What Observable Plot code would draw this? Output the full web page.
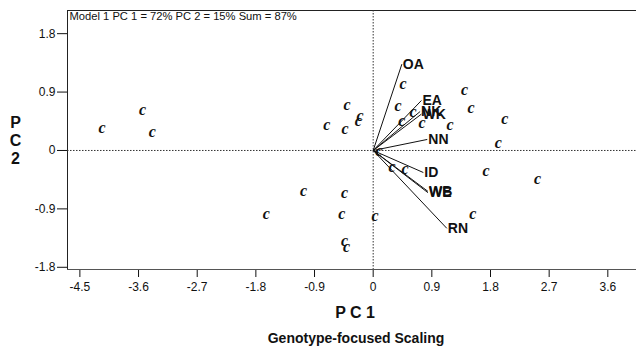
<!DOCTYPE html>
<html>
<head>
<meta charset="utf-8">
<script src="https://cdn.jsdelivr.net/npm/d3@7"></script>
<script src="https://cdn.jsdelivr.net/npm/@observablehq/plot@0.6"></script>
<style>
  html, body { margin: 0; padding: 0; background: #fff; }
  #chart svg { display: block; }
</style>
</head>
<body>
<div id="chart"></div>
<script>
// Genotype scores (PC1, PC2)
const genoPC1 = [-4.16, -3.54, -3.39, -1.64, -1.07, -0.71, -0.43, -0.40, -0.20, -0.23,
                 -0.44, -0.48, -0.44, -0.41, 0.03, 0.09, 0.46, 0.38, 0.61, 0.44,
                 0.75, 1.18, 1.40, 1.50, 2.02, 1.92, 0.29, 0.49, 1.73, 2.52, 1.53];
const genoPC2 = [0.35, 0.62, 0.29, -0.97, -0.63, 0.40, 0.34, 0.71, 0.54, 0.45,
                 -0.66, -0.97, -1.39, -1.49, -1.00, 0.00, 1.03, 0.68, 0.59, 0.46,
                 0.43, 0.40, 0.94, 0.65, 0.49, 0.11, -0.25, -0.28, -0.32, -0.43, -0.97];
const genoLabel = "c";

// Environment vectors
const envNames = ["OA", "EA", "NK", "WK", "NN", "ID", "WE", "WB", "RN"];
const envPC1 = [0.44, 0.74, 0.72, 0.74, 0.83, 0.77, 0.84, 0.84, 1.13];
const envPC2 = [1.33, 0.77, 0.60, 0.56, 0.17, -0.34, -0.65, -0.63, -1.20];

const xTicks = [-4.5, -3.6, -2.7, -1.8, -0.9, 0, 0.9, 1.8, 2.7, 3.6];
const yTicks = [-1.8, -0.9, 0, 0.9, 1.8];
const xDomain = [-4.69, 4.04];
const yDomain = [-1.834, 2.157];

const titleText = "Model 1 PC 1 = 72% PC 2 = 15% Sum = 87%";
const xTitle = "P C 1";
const yTitle = "P\nC\n2";
const caption = "Genotype-focused Scaling";

const genos = genoPC1.map((x, i) => ({x, y: genoPC2[i]}));
const envs = envNames.map((n, i) => ({name: n, x: envPC1[i], y: envPC2[i]}));

const font = "'Liberation Sans', Arial, sans-serif";

const chart = Plot.plot({
  width: 637,
  height: 351,
  marginLeft: 67,
  marginRight: 1,
  marginTop: 10,
  marginBottom: 82,
  style: {fontFamily: font, fontSize: "12px", color: "#111", background: "#fff"},
  x: {domain: xDomain, ticks: xTicks, tickFormat: d => String(d), tickSize: 8, tickPadding: 5, label: null, line: false},
  y: {domain: yDomain, ticks: yTicks, tickFormat: d => String(d), tickSize: 10, tickPadding: 2, label: null, line: false},
  marks: [
    // frame lines
    Plot.ruleY([yDomain[1]], {stroke: "#222", strokeWidth: 1}),
    Plot.ruleY([yDomain[0]], {stroke: "#555", strokeWidth: 1}),
    Plot.ruleX([xDomain[0]], {stroke: "#222", strokeWidth: 1}),
    // dotted reference lines
    Plot.ruleY([0], {stroke: "#333", strokeDasharray: "1.5,1.5"}),
    Plot.ruleX([0], {stroke: "#333", strokeDasharray: "1.5,1.5"}),
    // vectors
    Plot.link(envs, {x1: 0, y1: 0, x2: "x", y2: "y", stroke: "#111", strokeWidth: 1}),
    Plot.text(envs, {x: "x", y: "y", text: "name", textAnchor: "start", dx: 1,
      fontSize: 14, fontWeight: "bold", fill: "#111"}),
    // genotype markers
    Plot.text(genos, {x: "x", y: "y", text: () => genoLabel,
      fontFamily: "'Liberation Serif', 'Times New Roman', serif", fontStyle: "italic",
      fontWeight: "bold", fontSize: 16, fill: "#111"}),
    // model text
    Plot.text([titleText], {frameAnchor: "top-left", text: d => d, dx: 2, dy: 2,
      textAnchor: "start", lineAnchor: "top", fontSize: 11.2, fill: "#111"}),
    // axis titles
    Plot.text([yTitle], {frameAnchor: "left", text: d => d, dx: -52, dy: 0,
      textAnchor: "middle", fontSize: 16, fontWeight: "bold", lineHeight: 1.15, fill: "#111"}),
    Plot.text([xTitle], {frameAnchor: "bottom", text: d => d, dy: 48, dx: 3,
      textAnchor: "middle", fontSize: 16, fontWeight: "bold", fill: "#111"}),
    Plot.text([caption], {frameAnchor: "bottom", text: d => d, dy: 73, dx: 4,
      textAnchor: "middle", fontSize: 14, fontWeight: "bold", fill: "#111"})
  ]
});

document.getElementById("chart").appendChild(chart);
</script>
</body>
</html>
